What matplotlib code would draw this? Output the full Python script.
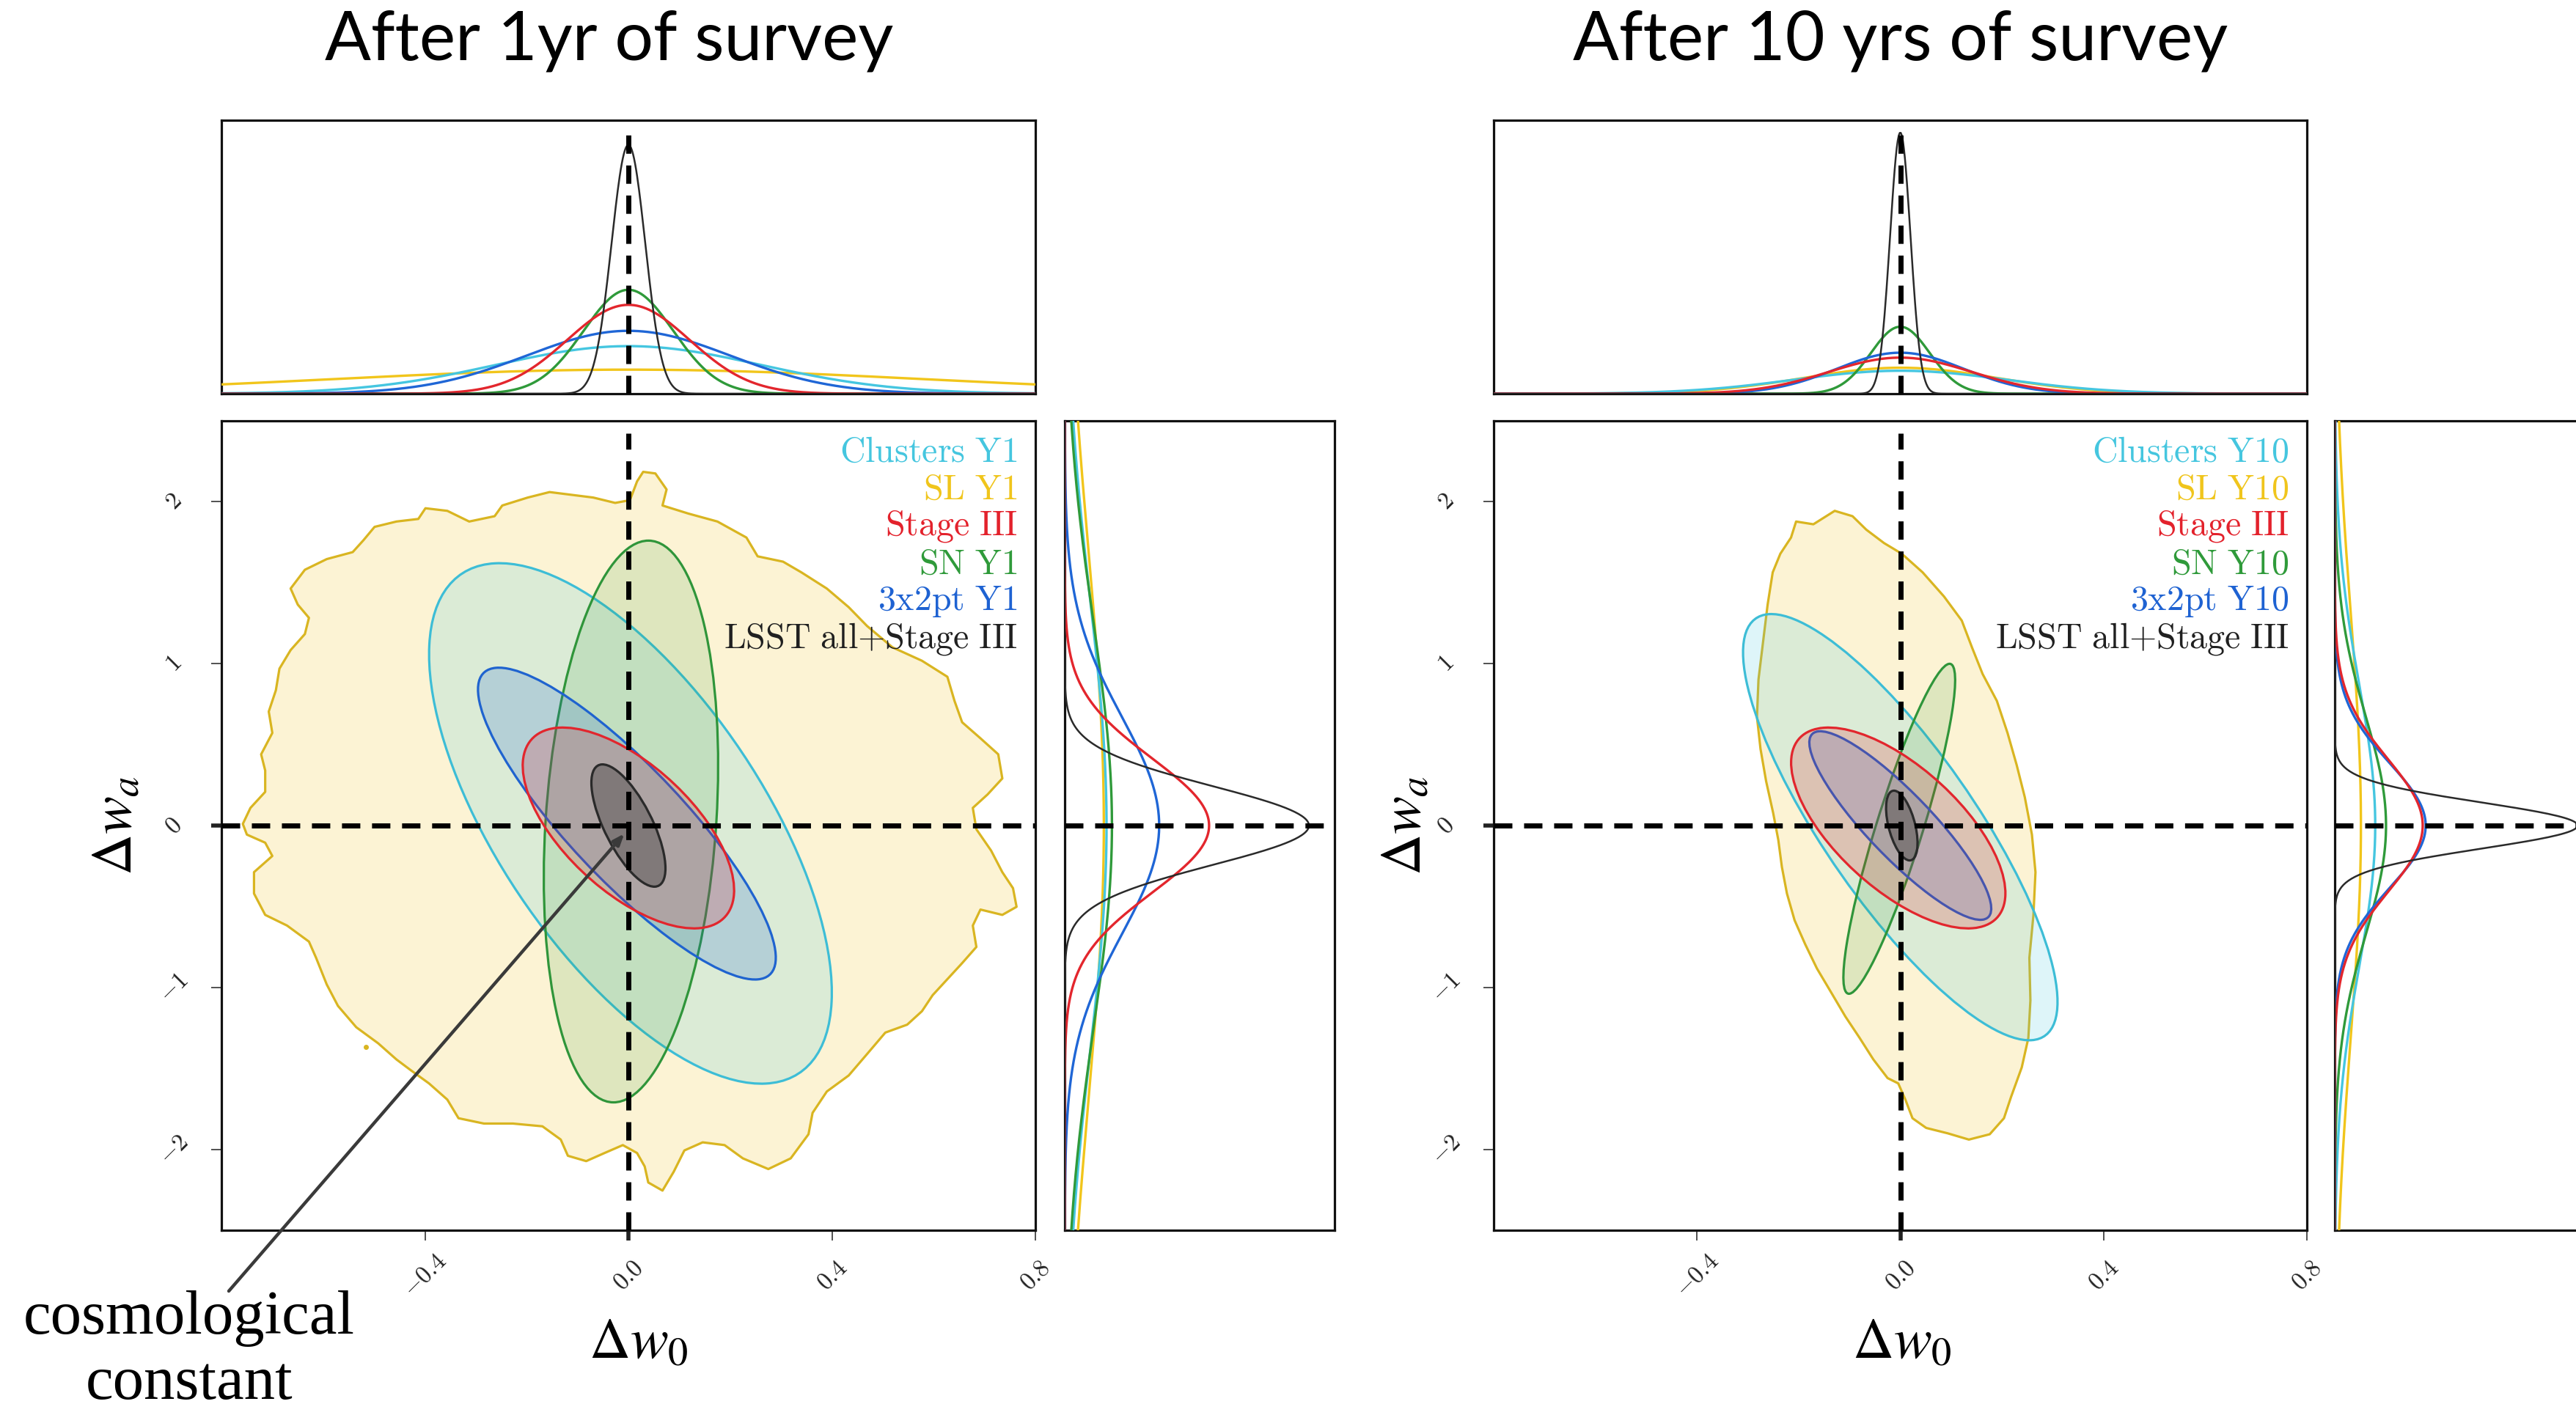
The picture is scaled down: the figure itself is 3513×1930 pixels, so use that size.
import numpy as np
import matplotlib
matplotlib.use("Agg")
import matplotlib.pyplot as plt
from matplotlib.patches import Ellipse, Polygon
from matplotlib.colors import to_rgba

plt.rcParams["mathtext.fontset"] = "cm"

W, H, DPI = 3513, 1930, 100

# ---------------------------------------------------------------- data
probes = ["clusters", "sl", "stage3", "sn", "3x2pt", "lsst"]
labels_y1 = ["Clusters Y1", "SL Y1", "Stage III", "SN Y1", "3x2pt Y1", "LSST all+Stage III"]
labels_y10 = ["Clusters Y10", "SL Y10", "Stage III", "SN Y10", "3x2pt Y10", "LSST all+Stage III"]

# Gaussian (Fisher) constraints: centre, 1-sigma widths and correlation
gauss_probes = ["clusters", "stage3", "sn", "3x2pt", "lsst"]
y1_w0_center = [0.004, 0.000, 0.005, -0.003, 0.000]
y1_wa_center = [0.013, -0.015, 0.025, 0.012, 0.000]
y1_sig_w0 = [0.261, 0.137, 0.113, 0.193, 0.048]
y1_sig_wa = [1.060, 0.409, 1.144, 0.635, 0.249]
y1_rho = [-0.65, -0.62, 0.20, -0.86, -0.70]

y10_w0_center = [0.000, -0.004, -0.002, 0.000, 0.003]
y10_wa_center = [-0.010, -0.015, -0.020, 0.000, 0.000]
y10_sig_w0 = [0.204, 0.139, 0.0725, 0.118, 0.0204]
y10_sig_wa = [0.868, 0.409, 0.672, 0.384, 0.142]
y10_rho = [-0.82, -0.65, 0.90, -0.88, -0.50]

# Strong-lensing chains give irregular 68% regions: boundary vertices (w0, wa)
sl_y1_w0 = [0.029, 0.053, 0.075, 0.067, 0.118, 0.175, 0.232, 0.254, 0.304, 0.340,
            0.390, 0.433, 0.469, 0.519, 0.577, 0.627, 0.641, 0.656, 0.692, 0.727,
            0.735, 0.706, 0.677, 0.684, 0.713, 0.735, 0.756, 0.763, 0.735, 0.692,
            0.677, 0.684, 0.656, 0.627, 0.598, 0.577, 0.548, 0.505, 0.469, 0.433,
            0.390, 0.362, 0.354, 0.319, 0.275, 0.225, 0.189, 0.146, 0.110, 0.089,
            0.067, 0.039, 0.032, 0.017, -0.011, -0.047, -0.083, -0.119, -0.133, -0.169,
            -0.227, -0.284, -0.334, -0.356, -0.392, -0.428, -0.456, -0.492, -0.535, -0.571,
            -0.593, -0.614, -0.628, -0.671, -0.714, -0.736, -0.736, -0.700, -0.714, -0.750,
            -0.758, -0.743, -0.714, -0.714, -0.722, -0.700, -0.707, -0.693, -0.686, -0.664,
            -0.636, -0.628, -0.650, -0.664, -0.636, -0.593, -0.542, -0.521, -0.499, -0.456,
            -0.413, -0.399, -0.356, -0.313, -0.263, -0.248, -0.198, -0.155, -0.112, -0.069,
            -0.026, 0.003, 0.017]
sl_y1_wa = [2.185, 2.175, 2.076, 1.977, 1.927, 1.878, 1.779, 1.663, 1.630, 1.564,
            1.464, 1.349, 1.233, 1.101, 1.018, 0.919, 0.770, 0.638, 0.539, 0.440,
            0.291, 0.192, 0.109, -0.023, -0.155, -0.288, -0.387, -0.502, -0.552, -0.519,
            -0.618, -0.750, -0.850, -0.949, -1.048, -1.147, -1.230, -1.279, -1.412, -1.544,
            -1.643, -1.775, -1.907, -2.056, -2.122, -2.056, -1.974, -1.957, -2.007, -2.139,
            -2.255, -2.205, -2.106, -2.023, -1.974, -2.023, -2.073, -2.040, -1.940, -1.858,
            -1.841, -1.841, -1.808, -1.693, -1.593, -1.511, -1.445, -1.345, -1.246, -1.114,
            -0.982, -0.817, -0.717, -0.618, -0.552, -0.420, -0.288, -0.188, -0.106, -0.056,
            0.010, 0.109, 0.208, 0.340, 0.440, 0.572, 0.704, 0.836, 0.969, 1.084,
            1.183, 1.283, 1.365, 1.464, 1.580, 1.646, 1.689, 1.762, 1.845, 1.878,
            1.894, 1.960, 1.944, 1.878, 1.911, 1.977, 2.026, 2.060, 2.043, 2.026,
            1.993, 2.010, 2.126]
sl_y1_island = (-0.516, -1.369)

sl_y10_w0 = [-0.205, -0.171, -0.129, -0.094, -0.067, -0.032, 0.003, 0.044, 0.086, 0.121,
             0.141, 0.162, 0.190, 0.211, 0.229, 0.245, 0.259, 0.266, 0.262, 0.254,
             0.256, 0.252, 0.239, 0.218, 0.204, 0.176, 0.135, 0.093, 0.051, 0.024,
             0.010, -0.004, -0.025, -0.053, -0.080, -0.108, -0.136, -0.164, -0.187, -0.208,
             -0.223, -0.233, -0.240, -0.250, -0.264, -0.275, -0.282, -0.279, -0.270, -0.261,
             -0.251, -0.236, -0.215]
sl_y10_wa = [1.878, 1.861, 1.944, 1.911, 1.828, 1.745, 1.679, 1.564, 1.415, 1.266,
             1.101, 0.936, 0.770, 0.572, 0.374, 0.175, -0.056, -0.288, -0.552, -0.817,
             -1.081, -1.312, -1.494, -1.676, -1.808, -1.907, -1.940, -1.901, -1.868, -1.808,
             -1.693, -1.593, -1.560, -1.445, -1.312, -1.180, -1.031, -0.883, -0.734, -0.585,
             -0.420, -0.255, -0.089, 0.076, 0.274, 0.473, 0.671, 0.902, 1.134, 1.365,
             1.564, 1.679, 1.779]

# 1D marginals (order follows `probes`): width and peak height
y1_top_sigma = [0.26, 0.58, 0.12, 0.088, 0.20, 0.033]
y1_top_peak = [0.174, 0.088, 0.325, 0.38, 0.23, 0.91]
y1_side_sigma = [1.40, 1.70, 0.414, 1.26, 0.67, 0.243]
y1_side_peak = [0.155, 0.145, 0.535, 0.175, 0.35, 0.905]

y10_top_sigma = [0.21, 0.19, 0.14, 0.058, 0.125, 0.020]
y10_top_peak = [0.084, 0.095, 0.132, 0.245, 0.15, 0.955]
y10_side_sigma = [0.868, 1.32, 0.409, 0.672, 0.384, 0.142]
y10_side_peak = [0.15, 0.097, 0.326, 0.19, 0.337, 0.90]

titles = ["After 1yr of survey", "After 10 yrs of survey"]

# ---------------------------------------------------------------- style
line_color = {"clusters": "#3dbdd6", "sl": "#d9b521", "stage3": "#e2262d",
              "sn": "#2f953a", "3x2pt": "#1f63cf", "lsst": "#2a2a2a"}
text_color = {"clusters": "#45c6df", "sl": "#f0c51c", "stage3": "#e3222c",
              "sn": "#2f9a3a", "3x2pt": "#1e62d2", "lsst": "#202020"}
marg_color = {"clusters": "#45c6e0", "sl": "#f1c51b", "stage3": "#e3262d",
              "sn": "#2f9a3a", "3x2pt": "#1f66d6", "lsst": "#2a2a2a"}
fill_alpha = {"clusters": 0.17, "sl": 0.22, "stage3": 0.20,
              "sn": 0.14, "3x2pt": 0.20, "lsst": 0.32}
fill_base = {"clusters": "#3cc4e0", "sl": "#f3cc3c", "stage3": "#e5202a",
             "sn": "#2e9a3a", "3x2pt": "#1e66d8", "lsst": "#202020"}
draw_order = ["sl", "clusters", "sn", "3x2pt", "stage3", "lsst"]
K68 = 2.30  # delta chi^2 of the 68% region for two parameters

XLIM, YLIM = (-0.8, 0.8), (-2.5, 2.5)
DASH = (0, (3.6, 2.3))

fig = plt.figure(figsize=(W / DPI, H / DPI), dpi=DPI)


def px_axes(x0, y0, x1, y1):
    return fig.add_axes([x0 / W, 1 - y1 / H, (x1 - x0) / W, (y1 - y0) / H])


def style_spines(ax):
    for s in ax.spines.values():
        s.set_linewidth(2.3)
        s.set_color("#111111")


def cov_ellipse(ax, cx, cy, sx, sy, rho, **kw):
    cov = np.array([[sx * sx, rho * sx * sy], [rho * sx * sy, sy * sy]])
    vals, vecs = np.linalg.eigh(cov)
    idx = np.argsort(vals)[::-1]
    vals, vecs = vals[idx], vecs[:, idx]
    angle = np.degrees(np.arctan2(vecs[1, 0], vecs[0, 0]))
    width, height = 2 * np.sqrt(K68 * vals)
    ax.add_patch(Ellipse((cx, cy), width, height, angle=angle, **kw))


def legend_tex(label):
    return r"$\mathrm{" + label.replace(" ", r"\ ").replace("+", "{+}") + "}$"


def draw_panel(x0, x1, side_x1, labels, gdata, sl_poly, top, side, title, title_x,
               xlabel_x, ylabel_x, island=None):
    ax = px_axes(x0, 574, x1, 1678)
    axt = px_axes(x0, 164, x1, 537)
    axr = px_axes(side_x1 - 368, 574, side_x1, 1678)

    w0c, wac, sw0, swa, rho = gdata
    for p in draw_order:
        face = to_rgba(fill_base[p], fill_alpha[p])
        if p == "sl":
            ax.add_patch(Polygon(np.column_stack(sl_poly), closed=True, facecolor=face,
                                 edgecolor=line_color[p], lw=2.3, joinstyle="round", zorder=2))
            if island is not None:
                ax.plot([island[0]], [island[1]], "o", ms=4, color=line_color[p], zorder=2)
        else:
            i = gauss_probes.index(p)
            cov_ellipse(ax, w0c[i], wac[i], sw0[i], swa[i], rho[i], facecolor=face,
                        edgecolor=line_color[p], lw=2.3, zorder=3)

    ax.axhline(0, color="black", lw=5, ls=DASH, zorder=6)
    ax.axvline(0, ymin=0, ymax=0.985, color="black", lw=5, ls=DASH, zorder=6)
    ax.set_xlim(*XLIM)
    ax.set_ylim(*YLIM)

    ax.set_xticks([-0.4, 0.0, 0.4, 0.8])
    ax.set_xticklabels([r"$-0.4$", r"$0.0$", r"$0.4$", r"$0.8$"], rotation=45,
                       ha="center", va="center")
    ax.set_yticks([-2, -1, 0, 1, 2])
    ax.set_yticklabels([r"$-2$", r"$-1$", r"$0$", r"$1$", r"$2$"], rotation=45,
                       ha="center", va="center")
    ax.tick_params(axis="x", direction="out", length=10, width=1.1, pad=34,
                   labelsize=24, colors="#222222")
    ax.tick_params(axis="y", direction="out", length=10, width=1.1, pad=37,
                   labelsize=24, colors="#222222")
    ax.xaxis.get_major_ticks()[1].tick1line.set_markeredgewidth(4)
    ax.yaxis.get_major_ticks()[2].tick1line.set_markeredgewidth(4)
    style_spines(ax)

    ax.text(xlabel_x, -0.138, r"$\Delta w_0$", transform=ax.transAxes, ha="center",
            va="center", fontsize=56, math_fontfamily="stix")
    ax.text(ylabel_x, 0.5, r"$\Delta w_a$", transform=ax.transAxes, ha="center",
            va="center", fontsize=56, rotation=90, math_fontfamily="stix")

    for j, (p, lab) in enumerate(zip(probes, labels)):
        ax.text(0.978, 0.962 - 0.0463 * j, legend_tex(lab),
                transform=ax.transAxes, ha="right", va="center", fontsize=34.5,
                color=text_color[p], zorder=8)

    # top marginal (w0)
    xs = np.linspace(XLIM[0], XLIM[1], 800)
    t_sig, t_peak = top
    for p in draw_order:
        i = probes.index(p)
        axt.plot(xs, t_peak[i] * np.exp(-0.5 * (xs / t_sig[i]) ** 2),
                 color=marg_color[p], lw=2.4 if p != "lsst" else 1.8, zorder=3)
    axt.axvline(0, ymin=0, ymax=0.95, color="black", lw=5, ls=DASH, zorder=6)
    axt.set_xlim(*XLIM)
    axt.set_ylim(0, 1)
    axt.set_xticks([])
    axt.set_yticks([])
    style_spines(axt)

    # side marginal (wa)
    ys = np.linspace(YLIM[0], YLIM[1], 800)
    s_sig, s_peak = side
    for p in draw_order:
        i = probes.index(p)
        axr.plot(s_peak[i] * np.exp(-0.5 * (ys / s_sig[i]) ** 2), ys,
                 color=marg_color[p], lw=2.4 if p != "lsst" else 1.8, zorder=3)
    axr.axhline(0, xmin=0, xmax=0.96, color="black", lw=5, ls=DASH, zorder=6)
    axr.set_xlim(0, 1)
    axr.set_ylim(*YLIM)
    axr.set_xticks([])
    axr.set_yticks([])
    style_spines(axr)

    fig.text(title_x / W, 1 - 56 / H, title, ha="center", va="center",
             fontsize=67, family="Lato")
    return ax


ax1 = draw_panel(302, 1412, 1820, labels_y1,
                 (y1_w0_center, y1_wa_center, y1_sig_w0, y1_sig_wa, y1_rho),
                 (sl_y1_w0, sl_y1_wa), (y1_top_sigma, y1_top_peak),
                 (y1_side_sigma, y1_side_peak), titles[0], 831, 0.513, -0.131,
                 island=sl_y1_island)
ax2 = draw_panel(2037, 3146, 3552, labels_y10,
                 (y10_w0_center, y10_wa_center, y10_sig_w0, y10_sig_wa, y10_rho),
                 (sl_y10_w0, sl_y10_wa), (y10_top_sigma, y10_top_peak),
                 (y10_side_sigma, y10_side_peak), titles[1], 2592, 0.502, -0.110)

# pointer to the Lambda-CDM point
ax1.annotate("", xy=(-0.008, -0.05), xycoords="data",
             xytext=(312 / W, 1 - 1761 / H), textcoords="figure fraction",
             arrowprops=dict(arrowstyle="-|>,head_length=0.9,head_width=0.35",
                             color="#3a3a3a", lw=3.2, shrinkA=0, shrinkB=0),
             zorder=9)
fig.text(258 / W, 1 - 1843 / H, "cosmological\nconstant", ha="center", va="center",
         fontsize=61, family="Liberation Serif", linespacing=1.22)

fig.savefig("out.png", dpi=DPI)
